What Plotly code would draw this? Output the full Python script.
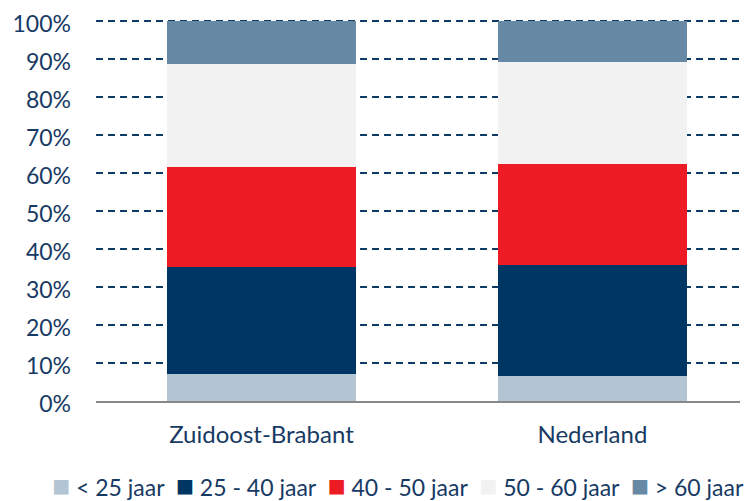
import plotly.graph_objects as go

categories = ["Zuidoost-Brabant", "Nederland"]
series_names = ["< 25 jaar", "25 - 40 jaar", "40 - 50 jaar", "50 - 60 jaar", "> 60 jaar"]
values_lt25 = [7.0, 6.7]
values_25_40 = [28.3, 29.0]
values_40_50 = [26.2, 26.6]
values_50_60 = [27.3, 27.0]
values_gt60 = [11.2, 10.7]
colors = ["#b3c5d3", "#003663", "#ed1c24", "#f2f2f2", "#6789a5"]
tick_vals = [0, 10, 20, 30, 40, 50, 60, 70, 80, 90, 100]
tick_text = [f"{v}%" for v in tick_vals]

series_values = [values_lt25, values_25_40, values_40_50, values_50_60, values_gt60]

font_family = "Lato, 'Open Sans', sans-serif"
text_color = "#173a64"

fig = go.Figure()
for name, vals, col in zip(series_names, series_values, colors):
    fig.add_trace(go.Bar(
        x=[0, 1], y=vals, name=name, width=0.571,
        marker=dict(color=col, line=dict(width=0)),
    ))

# legend as one line of text with coloured square glyphs
legend_parts = []
for name, col in zip(series_names, colors):
    safe = name.replace("<", "&lt;").replace(">", "&gt;")
    legend_parts.append(f"<span style='color:{col};font-size:30px'>■</span> {safe}")
legend_text = "&nbsp;&nbsp;".join(legend_parts)

fig.add_annotation(
    text=legend_text, xref="paper", yref="paper",
    x=0.469, y=-0.217, xanchor="center", yanchor="middle",
    showarrow=False, font=dict(size=23, color=text_color, family=font_family),
)

fig.update_layout(
    barmode="stack",
    width=753, height=501,
    margin=dict(l=88, r=21, t=12, b=108, autoexpand=False),
    paper_bgcolor="white", plot_bgcolor="white",
    font=dict(family=font_family, color=text_color, size=23),
    showlegend=False,
    xaxis=dict(
        range=[-0.5, 1.446],
        tickvals=[0, 1], ticktext=categories,
        showgrid=False, zeroline=False,
        showline=True, linecolor="#888888", linewidth=2,
        ticks="", ticklen=0, ticklabelstandoff=11,
        tickfont=dict(size=24, color=text_color),
    ),
    yaxis=dict(
        range=[0, 100.3], tickvals=tick_vals, ticktext=tick_text,
        showgrid=True, gridcolor="#0f3a66", gridwidth=2, griddash="7px,5px",
        zeroline=False, showline=False,
        tickfont=dict(size=23, color=text_color),
        ticks="", ticklabelstandoff=24, ticklabeloverflow="allow",
        ticklabelshift=3,
    ),
    bargap=0,
)
fig.write_html("out.html")
